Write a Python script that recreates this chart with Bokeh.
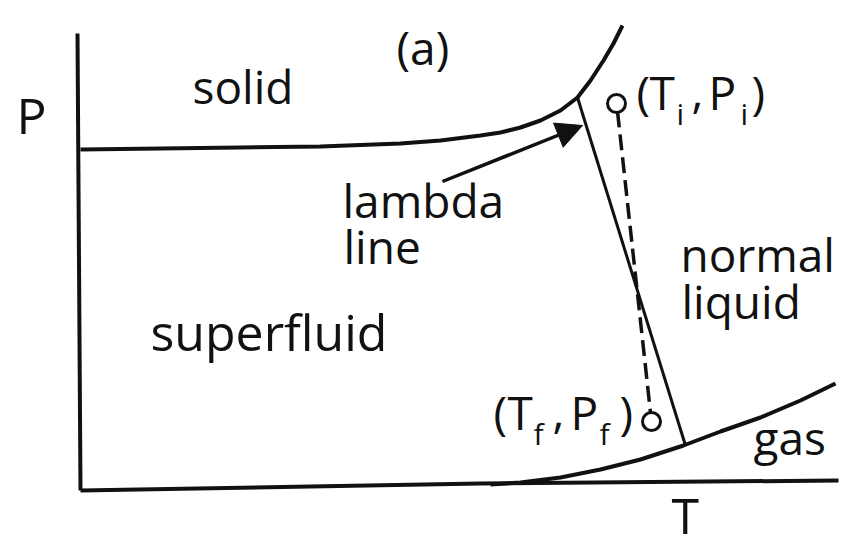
from bokeh.plotting import figure
from bokeh.models import Range1d, ColumnDataSource, Arrow, NormalHead
from bokeh.core.properties import value
from bokeh.embed import file_html
from bokeh.resources import INLINE

# Diagram coordinates (T to the right, P upward), in drawing units
axis_P_T = [77, 80]
axis_P_P = [521, 64]
axis_T_T = [80, 480, 838]
axis_T_P = [64, 71, 74]

melt_T = [80, 160, 240, 320, 400, 440, 480, 500, 520, 540, 560, 577, 590, 603, 613, 622]
melt_P = [405, 406, 407, 408, 411, 414, 419, 422, 427, 434, 444, 457, 474, 494, 511, 529]

lambda_T = [577, 685]
lambda_P = [457, 109]

vap_T = [490, 520, 560, 600, 640, 683, 720, 760, 800, 835]
vap_P = [70, 72, 77, 85, 95, 109, 123, 137, 154, 171]

path_T = [617, 650]
path_P = [443, 142]

state_T = [616, 651]
state_P = [451, 133]

arrow_T = [442, 582]
arrow_P = [373, 429]

labels = ["solid", "(a)", "lambda", "line", "normal", "liquid", "gas",
          "(", "T", ",", "P", ")", "(", "T", ",", "P", ")"]
label_T = [192, 396, 342, 343, 680, 681, 753,
           636, 649, 691, 708, 751, 493, 507, 552, 570, 619]
label_P = [469, 508, 355, 309, 301, 254, 118,
           463, 463, 463, 463, 463, 143, 143, 143, 143, 143]

big_labels = ["P", "T", "superfluid"]
big_T = [16, 671, 150]
big_P = [440, 40, 223]

subs = ["i", "i", "f", "f"]
sub_T = [676, 740, 533, 599]
sub_P = [441, 441, 121, 121]

FONT = "Open Sans"

p = figure(width=846, height=554, output_backend="svg", toolbar_location=None,
           x_range=Range1d(0, 846), y_range=Range1d(0, 554),
           x_axis_type=None, y_axis_type=None, min_border=0)
p.grid.visible = False
p.outline_line_color = None
p.background_fill_color = "white"

ink = "#111111"
p.line(axis_P_T, axis_P_P, line_color=ink, line_width=4)
p.line(axis_T_T, axis_T_P, line_color=ink, line_width=4)
p.line(melt_T, melt_P, line_color=ink, line_width=4, line_join="round")
p.line(lambda_T, lambda_P, line_color=ink, line_width=3)
p.line(vap_T, vap_P, line_color=ink, line_width=4, line_join="round")
p.line(path_T, path_P, line_color=ink, line_width=3.5, line_dash="16 7")
p.scatter(state_T, state_P, marker="circle", size=18, fill_color="white",
          line_color=ink, line_width=3)

p.add_layout(Arrow(end=NormalHead(size=26, fill_color=ink, line_color=ink, line_width=1),
                   x_start=arrow_T[0], y_start=arrow_P[0],
                   x_end=arrow_T[1], y_end=arrow_P[1],
                   line_color=ink, line_width=3.5))

src = ColumnDataSource(dict(x=label_T, y=label_P, text=labels))
p.text(x="x", y="y", text="text", source=src, text_font=value(FONT),
       text_font_size="46px", text_color=ink, text_baseline="alphabetic",
       text_align="left")

src_big = ColumnDataSource(dict(x=big_T, y=big_P, text=big_labels))
p.text(x="x", y="y", text="text", source=src_big, text_font=value(FONT),
       text_font_size="50px", text_color=ink, text_baseline="alphabetic",
       text_align="left")

src2 = ColumnDataSource(dict(x=sub_T, y=sub_P, text=subs))
p.text(x="x", y="y", text="text", source=src2, text_font=value(FONT),
       text_font_size="30px", text_color=ink, text_baseline="alphabetic",
       text_align="left")

open("out.html", "w").write(file_html(p, INLINE))
